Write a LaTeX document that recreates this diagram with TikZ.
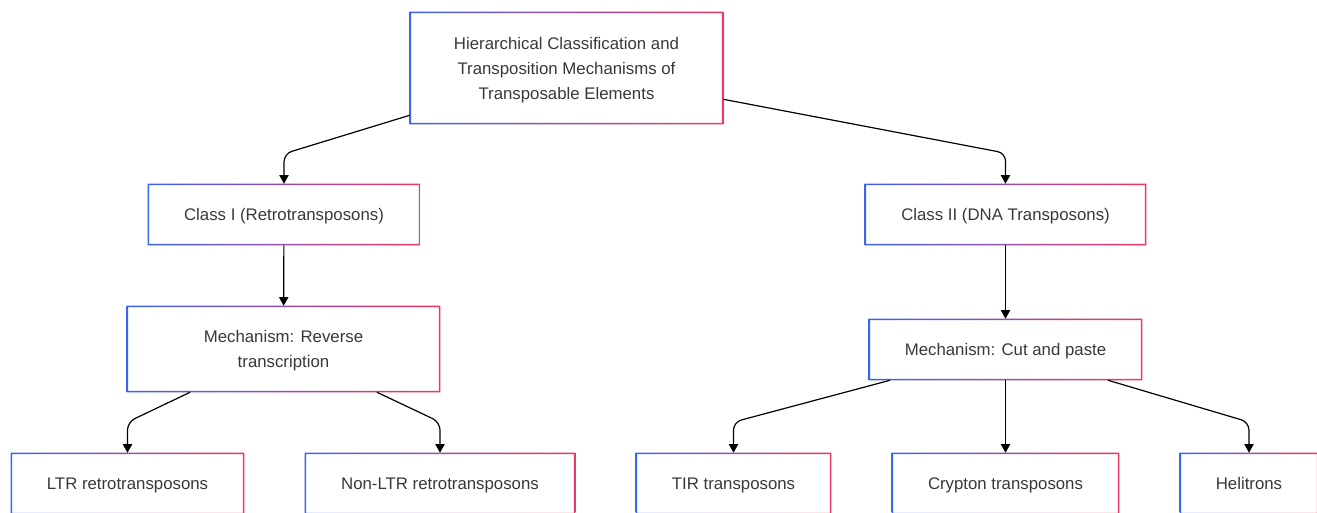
\documentclass[tikz,border=0pt]{standalone}
\usepackage{fontspec}
\setmainfont{Liberation Sans}
\usetikzlibrary{arrows.meta}
\definecolor{teblue}{HTML}{3A63F2}
\definecolor{tepink}{HTML}{F2365F}
\definecolor{tetext}{HTML}{383838}
\newcommand{\gradframe}[1]{%
  \shade[left color=teblue, right color=tepink, even odd rule]
    (#1.south west) rectangle (#1.north east)
    ([shift={(1.1pt,1.1pt)}]#1.south west) rectangle ([shift={(-1.1pt,-1.1pt)}]#1.north east);}
\begin{document}
\begin{tikzpicture}[x=0.75pt,y=-0.75pt,
    tebox/.style={inner sep=0pt, minimum height=45.75pt, align=center, text=tetext,
      font=\fontsize{12.6}{18.75}\selectfont},
    oneline/.style={tebox, text height=12pt, text depth=3pt},
    manyline/.style={tebox, text depth=0pt},
    edge/.style={line width=0.9pt, rounded corners=6pt, -{Triangle[length=6.5pt,width=7pt]}}]
  \useasboundingbox (0,0) rectangle (1317,512);
  % boxes
  \node[manyline, minimum width=234.75pt, minimum height=84pt] (title) at (566.5,68)
    {Hierarchical Classification and\\Transposition Mechanisms of\\Transposable Elements};
  \node[oneline, minimum width=204pt] (cls1) at (284,214.5) {Class I (Retrotransposons)};
  \node[oneline, minimum width=210.75pt] (cls2) at (1005.5,214.5) {Class II (DNA Transposons)};
  \node[manyline, minimum width=234.75pt, minimum height=64.5pt] (mech1) at (283.5,349)
    {Mechanism: Reverse\\transcription};
  \node[oneline, minimum width=204.75pt] (mech2) at (1005.5,349.5) {Mechanism: Cut and paste};
  \node[oneline, minimum width=174.75pt] (ltr) at (127.5,483.5) {LTR retrotransposons};
  \node[oneline, minimum width=202.5pt] (nonltr) at (440,483.5) {Non-LTR retrotransposons};
  \node[oneline, minimum width=146.25pt] (tir) at (733.5,483.5) {TIR transposons};
  \node[oneline, minimum width=170.25pt] (crypton) at (1005.5,483.5) {Crypton transposons};
  \node[oneline, minimum width=103.5pt] (heli) at (1249,483.5) {Helitrons};
  \foreach \n in {title,cls1,cls2,mech1,mech2,ltr,nonltr,tir,crypton,heli}
    \gradframe{\n};
  % connectors
  \draw[edge] ([yshift=6.75pt]title.south west) -- ([yshift=22.5pt]cls1.north) -- (cls1.north);
  \draw[edge] ([yshift=18.75pt]title.south east) -- ([yshift=23pt]cls2.north) -- (cls2.north);
  \draw[edge] (cls1) -- (mech1);
  \draw[edge] (cls2) -- (mech2);
  \draw[edge] ([xshift=-70.1pt]mech1.south) -- ([yshift=23pt]ltr.north) -- (ltr.north);
  \draw[edge] ([xshift=70.1pt]mech1.south) -- ([yshift=23pt]nonltr.north) -- (nonltr.north);
  \draw[edge] ([xshift=-86.6pt]mech2.south) -- ([yshift=23pt]tir.north) -- (tir.north);
  \draw[edge] (mech2) -- (crypton);
  \draw[edge] ([xshift=76.9pt]mech2.south) -- ([yshift=23pt]heli.north) -- (heli.north);
\end{tikzpicture}
\end{document}
